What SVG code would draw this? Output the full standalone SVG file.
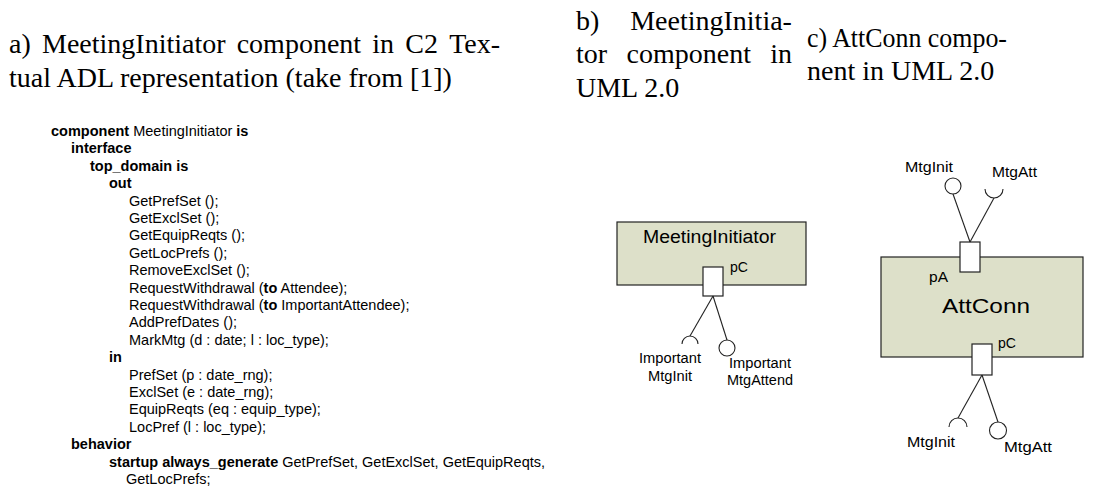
<svg xmlns="http://www.w3.org/2000/svg" width="1093" height="490" viewBox="0 0 1093 490">
<style>
.t{font-family:"Liberation Serif","Times New Roman",serif;font-size:28px;fill:#000}
.c{font-family:"Liberation Sans",Arial,sans-serif;font-size:14.5px;fill:#000}
.b{font-weight:bold}
.box{fill:#dde0c9;stroke:#222;stroke-width:1.2}
.port{fill:#fff;stroke:#222;stroke-width:1.2}
.ln{fill:none;stroke:#222;stroke-width:1.1}
.lbl{font-family:"Liberation Sans",Arial,sans-serif;font-size:14px;fill:#000}
.nm{font-family:"Liberation Sans",Arial,sans-serif;fill:#000}
</style>
<rect width="1093" height="490" fill="#fff"/>
<g id="titles">
<text class="t" y="53"><tspan x="9">a)</tspan><tspan x="42">MeetingInitiator</tspan><tspan x="236.7">component</tspan><tspan x="372.3">in</tspan><tspan x="405.3">C2</tspan><tspan x="449.2">Tex-</tspan></text>
<text class="t" x="9" y="87">tual ADL representation (take from [1])</text>
<text class="t" y="30"><tspan x="576">b)</tspan><tspan x="630.2">MeetingInitia-</tspan></text>
<text class="t" y="63"><tspan x="576">tor</tspan><tspan x="626.5">component</tspan><tspan x="770.2">in</tspan></text>
<text class="t" x="576" y="97">UML 2.0</text>
<text class="t" x="807" y="47" textLength="200" lengthAdjust="spacingAndGlyphs">c) AttConn compo-</text>
<text class="t" x="807" y="80">nent in UML 2.0</text>
</g>
<g id="code">
<text class="c" x="51" y="136"><tspan class="b">component</tspan> MeetingInitiator <tspan class="b">is</tspan></text>
<text class="c b" x="71" y="153.4">interface</text>
<text class="c b" x="90" y="170.8">top_domain is</text>
<text class="c b" x="109" y="188.2">out</text>
<text class="c" x="129" y="205.6">GetPrefSet ();</text>
<text class="c" x="129" y="223">GetExclSet ();</text>
<text class="c" x="129" y="240.4">GetEquipReqts ();</text>
<text class="c" x="129" y="257.8">GetLocPrefs ();</text>
<text class="c" x="129" y="275.2">RemoveExclSet ();</text>
<text class="c" x="129" y="292.6">RequestWithdrawal (<tspan class="b">to</tspan> Attendee);</text>
<text class="c" x="129" y="310">RequestWithdrawal (<tspan class="b">to</tspan> ImportantAttendee);</text>
<text class="c" x="129" y="327.4">AddPrefDates ();</text>
<text class="c" x="129" y="344.8">MarkMtg (d : date; l : loc_type);</text>
<text class="c b" x="109" y="362.2">in</text>
<text class="c" x="129" y="379.6">PrefSet (p : date_rng);</text>
<text class="c" x="129" y="397">ExclSet (e : date_rng);</text>
<text class="c" x="129" y="414.4">EquipReqts (eq : equip_type);</text>
<text class="c" x="129" y="431.8">LocPref (l : loc_type);</text>
<text class="c b" x="71" y="449.2">behavior</text>
<text class="c" x="109" y="466.6"><tspan class="b">startup always_generate</tspan> GetPrefSet, GetExclSet, GetEquipReqts,</text>
<text class="c" x="126" y="484">GetLocPrefs;</text>
</g>
<g id="meetingInitiator">
<rect class="box" x="617" y="222" width="189" height="63"/>
<text class="nm" x="643" y="243" font-size="18" textLength="133" lengthAdjust="spacingAndGlyphs">MeetingInitiator</text>
<rect class="port" x="703" y="267" width="20" height="29"/>
<text class="lbl" x="730" y="272" textLength="18" lengthAdjust="spacingAndGlyphs">pC</text>
</g>
<g id="attConn">
<rect class="box" x="881" y="257" width="202" height="100"/>
<text class="nm" x="942" y="313" font-size="20" textLength="88" lengthAdjust="spacingAndGlyphs">AttConn</text>
<rect class="port" x="960" y="242" width="20" height="30"/>
<text class="lbl" x="929" y="282" textLength="19" lengthAdjust="spacingAndGlyphs">pA</text>
<rect class="port" x="972" y="344" width="20" height="31"/>
<text class="lbl" x="998" y="348" textLength="18" lengthAdjust="spacingAndGlyphs">pC</text>
</g>
<g id="connectors">
<line class="ln" x1="713" y1="296" x2="690" y2="336"/>
<line class="ln" x1="713" y1="296" x2="727" y2="340"/>
<line class="ln" x1="970" y1="242" x2="953" y2="194"/>
<line class="ln" x1="970" y1="242" x2="994" y2="198"/>
<line class="ln" x1="982" y1="375" x2="958" y2="418"/>
<line class="ln" x1="982" y1="375" x2="998" y2="422"/>
</g>
<g id="interfaces">
<path class="ln" d="M682,344 A8,8 0 0 1 698,344"/>
<circle class="ln" cx="727" cy="348" r="8"/>
<circle class="ln" cx="953" cy="186" r="8"/>
<path class="ln" d="M985,189 A9,9 0 0 0 1003,189"/>
<path class="ln" d="M949,427 A9,9 0 0 1 967,427"/>
<circle class="ln" cx="998" cy="430.5" r="8.5"/>
</g>
<g id="labels">
<text class="lbl" x="639" y="363" textLength="62" lengthAdjust="spacingAndGlyphs">Important</text>
<text class="lbl" x="648" y="381" textLength="44" lengthAdjust="spacingAndGlyphs">MtgInit</text>
<text class="lbl" x="729" y="368" textLength="62" lengthAdjust="spacingAndGlyphs">Important</text>
<text class="lbl" x="727" y="385" textLength="66" lengthAdjust="spacingAndGlyphs">MtgAttend</text>
<text class="lbl" x="905" y="172" textLength="48" lengthAdjust="spacingAndGlyphs">MtgInit</text>
<text class="lbl" x="992" y="177" textLength="45" lengthAdjust="spacingAndGlyphs">MtgAtt</text>
<text class="lbl" x="907" y="447" textLength="48" lengthAdjust="spacingAndGlyphs">MtgInit</text>
<text class="lbl" x="1004" y="452" textLength="48" lengthAdjust="spacingAndGlyphs">MtgAtt</text>
</g>
</svg>
